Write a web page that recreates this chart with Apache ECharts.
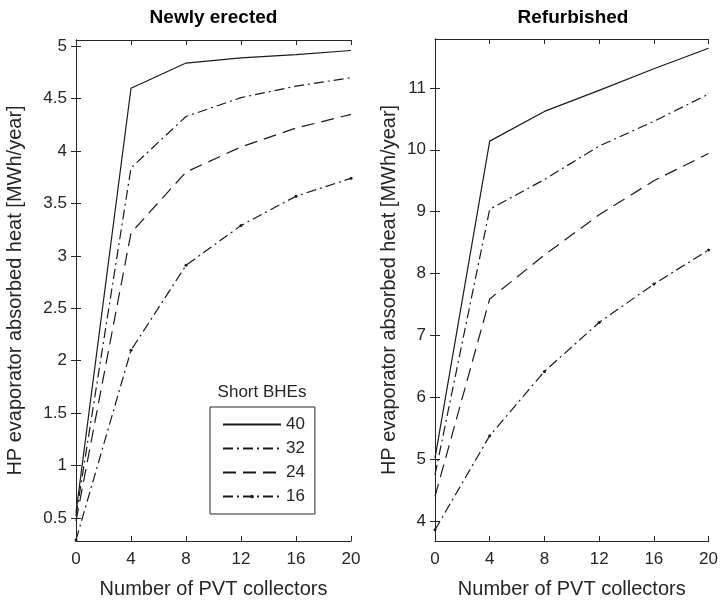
<!DOCTYPE html>
<html>
<head>
<meta charset="utf-8">
<script src="https://cdn.jsdelivr.net/npm/echarts@6/dist/echarts.min.js"></script>
<style>
html,body{margin:0;padding:0;background:#fff;}
#chart{width:721px;height:604px;}
</style>
</head>
<body>
<div id="chart"></div>
<script>
// ---- data ----
const collectors = [0, 4, 8, 12, 16, 20];
const seriesNames = ['40', '32', '24', '16'];
const newly40 = [0.55, 4.60, 4.84, 4.89, 4.92, 4.96];
const newly32 = [0.52, 3.84, 4.33, 4.51, 4.62, 4.70];
const newly24 = [0.47, 3.22, 3.80, 4.04, 4.22, 4.35];
const newly16 = [0.29, 2.10, 2.91, 3.29, 3.57, 3.74];
const refurb40 = [5.02, 10.14, 10.62, 10.96, 11.31, 11.64];
const refurb32 = [4.75, 9.04, 9.52, 10.06, 10.46, 10.90];
const refurb24 = [4.40, 7.59, 8.30, 8.95, 9.50, 9.94];
const refurb16 = [3.86, 5.38, 6.42, 7.21, 7.83, 8.38];
const newlyTicks = [0.5, 1, 1.5, 2, 2.5, 3, 3.5, 4, 4.5, 5];
const refurbTicks = [4, 5, 6, 7, 8, 9, 10, 11];
const xTicks = [0, 4, 8, 12, 16, 20];

const FONT = '"Liberation Sans", Arial, Helvetica, sans-serif';
const AX = '#262626';
const LINE = '#1a1a1a';
const DOT = 'path://M0 0M9 9M4.5 3A1.5 1.5 0 1 1 4.5 6A1.5 1.5 0 1 1 4.5 3Z';

const styles = {
  '40': { type: 'solid' },
  '32': { type: [10, 4, 2, 4] },
  '24': { type: [13, 7] },
  '16': { type: [10, 4, 2, 4] }
};

function pairs(ys) { return collectors.map((x, i) => [x, ys[i]]); }

function mkSeries(name, ys, gi) {
  const s = {
    name: name,
    type: 'line',
    xAxisIndex: gi * 2,
    yAxisIndex: gi * 2,
    data: pairs(ys),
    lineStyle: { color: LINE, width: 1.2, type: styles[name].type },
    itemStyle: { color: LINE, borderWidth: 0 },
    symbol: 'none',
    silent: true
  };
  if (name === '16') { s.symbol = DOT; s.symbolSize = 9; }
  return s;
}

function xAxisPair(gi) {
  const base = {
    type: 'value', gridIndex: gi, min: 0, max: 20, interval: 4,
    axisLine: { show: true, lineStyle: { color: AX, width: 1 } },
    axisTick: { show: true, inside: true, length: 5, lineStyle: { color: AX } },
    splitLine: { show: false }
  };
  return [
    Object.assign({}, base, {
      position: 'bottom',
      axisLabel: { show: true, color: AX, fontSize: 17, fontFamily: FONT, margin: 10 },
      name: 'Number of PVT collectors', nameLocation: 'middle', nameGap: 38,
      nameTextStyle: { color: AX, fontSize: 20, fontFamily: FONT }
    }),
    Object.assign({}, base, { position: 'top', axisLabel: { show: false } })
  ];
}

function yAxisPair(gi, min, max, ticks, gap) {
  const base = {
    type: 'value', gridIndex: gi, min: min, max: max,
    axisLine: { show: true, lineStyle: { color: AX, width: 1 } },
    axisTick: { show: true, inside: true, length: 5, lineStyle: { color: AX }, customValues: ticks },
    splitLine: { show: false }
  };
  return [
    Object.assign({}, base, {
      position: 'left',
      axisLabel: { show: true, color: AX, fontSize: 17, fontFamily: FONT, margin: 9, customValues: ticks },
      name: 'HP evaporator absorbed heat [MWh/year]', nameLocation: 'middle', nameGap: gap, nameRotate: 90,
      nameTextStyle: { color: AX, fontSize: 20, fontFamily: FONT }
    }),
    Object.assign({}, base, { position: 'right', axisLabel: { show: false } })
  ];
}

const hidden = { color: 'rgba(0,0,0,0)', borderColor: 'rgba(0,0,0,0)', borderWidth: 0 };

const option = {
  animation: false,
  backgroundColor: '#fff',
  textStyle: { fontFamily: FONT },
  grid: [
    { left: 76, right: 370, top: 40, bottom: 61, containLabel: false },
    { left: 435, right: 10, top: 39, bottom: 61, containLabel: false }
  ],
  xAxis: [].concat(xAxisPair(0), xAxisPair(1)),
  yAxis: [].concat(
    yAxisPair(0, 0.28, 5.06, newlyTicks, 51),
    yAxisPair(1, 3.68, 11.79, refurbTicks, 36)
  ),
  legend: {
    orient: 'vertical',
    left: 210, top: 407,
    padding: [9, 10, 9, 12],
    itemWidth: 58, itemHeight: 14, itemGap: 7,
    borderColor: AX, borderWidth: 1,
    backgroundColor: '#fff',
    selectedMode: false,
    textStyle: { color: AX, fontSize: 17, fontFamily: FONT },
    data: [
      { name: '40', itemStyle: hidden },
      { name: '32', itemStyle: hidden },
      { name: '24', itemStyle: hidden },
      { name: '16' }
    ]
  },
  graphic: [
    { type: 'text', x: 213.5, y: 18, silent: true,
      style: { text: 'Newly erected', font: 'bold 19px ' + FONT, fill: '#000', align: 'center', verticalAlign: 'middle' } },
    { type: 'text', x: 573, y: 18, silent: true,
      style: { text: 'Refurbished', font: 'bold 19px ' + FONT, fill: '#000', align: 'center', verticalAlign: 'middle' } },
    { type: 'text', x: 262, y: 392, silent: true, z: 10,
      style: { text: 'Short BHEs', font: '17px ' + FONT, fill: AX, align: 'center', verticalAlign: 'middle' } }
  ],
  series: [
    mkSeries('40', newly40, 0),
    mkSeries('32', newly32, 0),
    mkSeries('24', newly24, 0),
    mkSeries('16', newly16, 0),
    mkSeries('40', refurb40, 1),
    mkSeries('32', refurb32, 1),
    mkSeries('24', refurb24, 1),
    mkSeries('16', refurb16, 1)
  ]
};

const chart = echarts.init(document.getElementById('chart'), null, { renderer: 'canvas' });
chart.setOption(option);
</script>
</body>
</html>
